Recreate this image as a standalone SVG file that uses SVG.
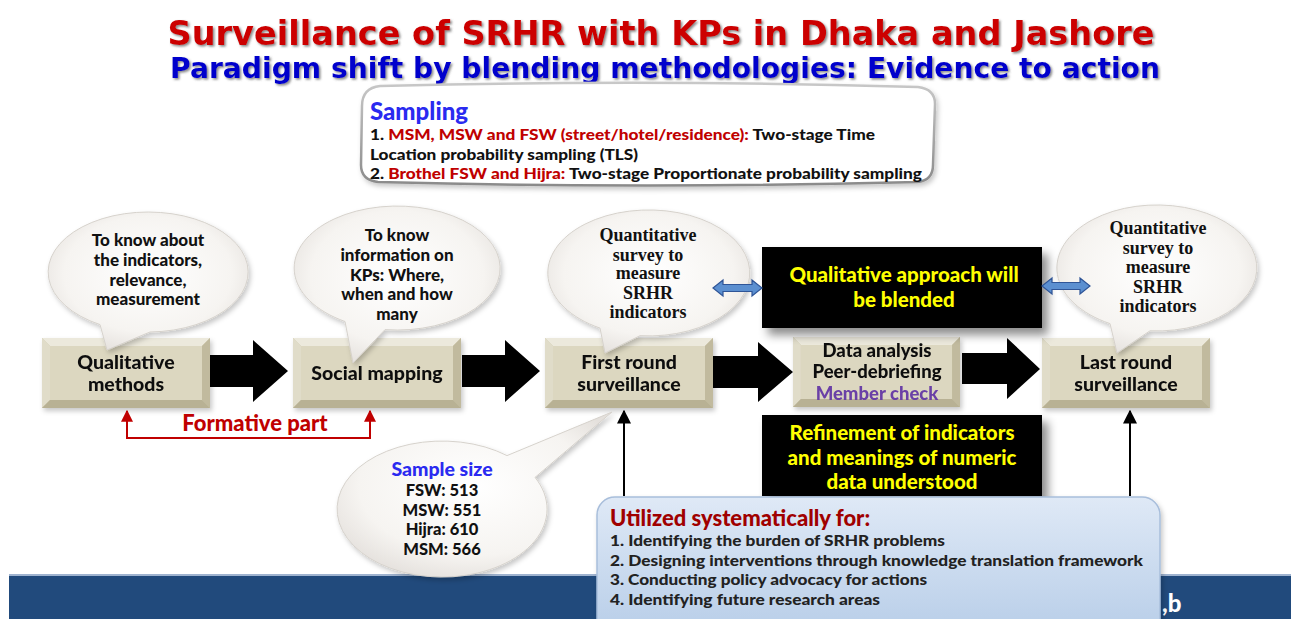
<svg xmlns="http://www.w3.org/2000/svg" width="1291" height="619" viewBox="0 0 1291 619">
  <defs>
    <style>
      .title { font-family: "DejaVu Sans", "Liberation Sans", sans-serif; font-weight: bold; }
      .b { font-family: Lato, "Open Sans", "Liberation Sans", sans-serif; font-weight: 900; }
      .serif { font-family: "Liberation Serif", "DejaVu Serif", serif; font-weight: bold; fill: #111; font-size: 18px; text-anchor: middle; }
      .box-t { font-size: 19.5px; text-anchor: middle; }
      .bub-t { font-size: 17px; text-anchor: middle; }
      .yel { font-size: 20.5px; fill: #ffff00; text-anchor: middle; }
      .bubble { fill: url(#bubbleFill); stroke: #d6d2cc; stroke-width: 1; filter: url(#softShadow); }
      .blk { fill: #000; filter: url(#bigShadow); }
      .flow { fill: #000; }
      .dbl { fill: #5b8fd0; stroke: #2f5597; stroke-width: 1.2; }
    </style>
    <radialGradient id="bubbleFill" cx="50%" cy="45%" r="60%">
      <stop offset="0" stop-color="#ffffff"/>
      <stop offset="0.7" stop-color="#f6f4f1"/>
      <stop offset="1" stop-color="#e4e0dc"/>
    </radialGradient>
    <linearGradient id="utilFill" x1="0" y1="0" x2="0" y2="1">
      <stop offset="0" stop-color="#dfe9f6"/>
      <stop offset="1" stop-color="#b7cde8"/>
    </linearGradient>
    <linearGradient id="sampStroke" x1="0" y1="0" x2="0" y2="1">
      <stop offset="0" stop-color="#c8c8c8"/>
      <stop offset="1" stop-color="#8a8a8a"/>
    </linearGradient>
    <filter id="softShadow" x="-10%" y="-10%" width="125%" height="130%">
      <feDropShadow dx="2" dy="3" stdDeviation="2.5" flood-color="#000" flood-opacity="0.22"/>
    </filter>
    <filter id="bigShadow" x="-10%" y="-15%" width="130%" height="150%">
      <feDropShadow dx="6" dy="7" stdDeviation="5" flood-color="#000" flood-opacity="0.45"/>
    </filter>
    <filter id="textShadow" x="-5%" y="-20%" width="110%" height="150%">
      <feDropShadow dx="1.6" dy="1.6" stdDeviation="0.9" flood-color="#555" flood-opacity="0.7"/>
    </filter>
    <marker id="headBlack" viewBox="0 0 10 10" refX="9" refY="5" markerWidth="7" markerHeight="7" orient="auto">
      <path d="M0,0 L10,5 L0,10 Z" fill="#000"/>
    </marker>
    <marker id="headRed" viewBox="0 0 10 10" refX="9" refY="5" markerWidth="6" markerHeight="6" orient="auto">
      <path d="M0,0 L10,5 L0,10 Z" fill="#c00000"/>
    </marker>
    <!-- beige bevelled process box -->
    <symbol id="bevel" viewBox="0 0 168 70" preserveAspectRatio="none">
      <rect x="0" y="0" width="168" height="70" fill="#cdc7ab"/>
      <polygon points="0,0 168,0 160,8 8,8" fill="#ece9dc"/>
      <polygon points="0,0 8,8 8,62 0,70" fill="#e0dcc9"/>
      <polygon points="168,0 168,70 160,62 160,8" fill="#c1ba9e"/>
      <polygon points="0,70 8,62 160,62 168,70" fill="#b8b194"/>
      <rect x="8" y="8" width="152" height="54" fill="#dcd7c0"/>
    </symbol>
  </defs>

  <rect width="1291" height="619" fill="#ffffff"/>

  <!-- heading -->
  <g id="heading" filter="url(#textShadow)">
    <text class="title" x="661" y="45" font-size="34" fill="#cc0000" text-anchor="middle" textLength="987" lengthAdjust="spacingAndGlyphs">Surveillance of SRHR with KPs in Dhaka and Jashore</text>
    <text class="title" x="665" y="78" font-size="29" fill="#0000cc" text-anchor="middle" textLength="990" lengthAdjust="spacingAndGlyphs">Paradigm shift by blending methodologies: Evidence to action</text>
  </g>

  <!-- footer band -->
  <g id="footer-band">
    <rect x="9" y="575" width="1282" height="44" fill="#214a7c"/>
    <rect x="9" y="574" width="1282" height="2" fill="#9fb3cf"/>
    <text class="b" x="1162" y="612" font-size="24" fill="#ffffff">,b</text>
  </g>

  <!-- sampling panel -->
  <g id="sampling">
    <path d="M380 86 Q648 79 918 87 Q935 89 935 104 L933 165 Q933 180 918 182 Q648 189 378 182 Q361 180 361 165 L362 106 Q362 88 380 86 Z" fill="#ffffff" stroke="url(#sampStroke)" stroke-width="2.5" filter="url(#softShadow)"/>
    <text class="b" x="370" y="120" font-size="24" fill="#2a2af0">Sampling</text>
    <text class="b" x="370" y="140" font-size="15.5" fill="#111" textLength="505" lengthAdjust="spacingAndGlyphs">1. <tspan fill="#c00000">MSM, MSW and FSW (street/hotel/residence):</tspan> Two-stage Time</text>
    <text class="b" x="370" y="160" font-size="15.5" fill="#111" textLength="268" lengthAdjust="spacingAndGlyphs">Location probability sampling (TLS)</text>
    <text class="b" x="370" y="179" font-size="15.5" fill="#111" textLength="552" lengthAdjust="spacingAndGlyphs">2. <tspan fill="#c00000">Brothel FSW and Hijra:</tspan> Two-stage Proportionate probability sampling</text>
  </g>

  <!-- process boxes -->
  <g id="qualitative-methods" filter="url(#softShadow)">
    <use href="#bevel" x="42" y="338" width="168" height="70"/>
    <text class="b box-t" x="126" y="369" fill="#111">Qualitative</text>
    <text class="b box-t" x="126" y="391" fill="#111">methods</text>
  </g>
  <g id="social-mapping" filter="url(#softShadow)">
    <use href="#bevel" x="293" y="338" width="168" height="70"/>
    <text class="b box-t" x="377" y="380" fill="#111">Social mapping</text>
  </g>
  <g id="first-round" filter="url(#softShadow)">
    <use href="#bevel" x="545" y="338" width="168" height="70"/>
    <text class="b box-t" x="629" y="369" fill="#111">First round</text>
    <text class="b box-t" x="629" y="391" fill="#111">surveillance</text>
  </g>
  <g id="data-analysis" filter="url(#softShadow)">
    <use href="#bevel" x="793" y="337" width="167" height="70"/>
    <text class="b box-t" x="877" y="357" fill="#111" style="font-size:18.5px">Data analysis</text>
    <text class="b box-t" x="877" y="378" fill="#111" style="font-size:18.5px">Peer-debriefing</text>
    <text class="b box-t" x="877" y="400" fill="#6a3fa6" style="font-size:18.5px">Member check</text>
  </g>
  <g id="last-round" filter="url(#softShadow)">
    <use href="#bevel" x="1042" y="338" width="168" height="70"/>
    <text class="b box-t" x="1126" y="369" fill="#111">Last round</text>
    <text class="b box-t" x="1126" y="391" fill="#111">surveillance</text>
  </g>

  <!-- speech bubbles -->
  <g id="bubble-qualitative" fill="#111">
    <path class="bubble" d="M100 324.6 L107 350 L150 332 A100 60 0 1 0 100 324.6 Z"/>
    <text class="b bub-t" x="148" y="246">To know about</text>
    <text class="b bub-t" x="148" y="266">the indicators,</text>
    <text class="b bub-t" x="148" y="286">relevance,</text>
    <text class="b bub-t" x="148" y="305">measurement</text>
  </g>
  <g id="bubble-mapping" fill="#111">
    <path class="bubble" d="M345 321.5 L353 363 L385 329.6 A103 62 0 1 0 345 321.5 Z"/>
    <text class="b bub-t" x="397" y="241">To know</text>
    <text class="b bub-t" x="397" y="261">information on</text>
    <text class="b bub-t" x="397" y="281">KPs: Where,</text>
    <text class="b bub-t" x="397" y="300">when and how</text>
    <text class="b bub-t" x="397" y="320">many</text>
  </g>
  <g id="bubble-first-survey">
    <path class="bubble" d="M600 328.1 L605 353 L640 335.7 A101 63 0 1 0 600 328.1 Z"/>
    <text class="serif" x="648" y="241">Quantitative</text>
    <text class="serif" x="648" y="261">survey to</text>
    <text class="serif" x="648" y="279">measure</text>
    <text class="serif" x="648" y="299">SRHR</text>
    <text class="serif" x="648" y="318">indicators</text>
  </g>
  <g id="bubble-last-survey">
    <path class="bubble" d="M1110 323.6 L1117 353 L1150 330.8 A100 63 0 1 0 1110 323.6 Z"/>
    <text class="serif" x="1158" y="234">Quantitative</text>
    <text class="serif" x="1158" y="254">survey to</text>
    <text class="serif" x="1158" y="273">measure</text>
    <text class="serif" x="1158" y="293">SRHR</text>
    <text class="serif" x="1158" y="312">indicators</text>
  </g>

  <!-- qualitative approach -->
  <g id="qualitative-approach">
    <rect class="blk" x="762" y="247" width="280" height="81"/>
    <text class="b yel" x="904" y="282">Qualitative approach will</text>
    <text class="b yel" x="904" y="307">be blended</text>
  </g>

  <!-- refinement -->
  <g id="refinement">
    <rect class="blk" x="762" y="415" width="280" height="81"/>
    <text class="b yel" x="902" y="440">Refinement of indicators</text>
    <text class="b yel" x="902" y="465">and meanings of numeric</text>
    <text class="b yel" x="902" y="489">data understood</text>
  </g>

  <!-- sample size bubble -->
  <g id="sample-size" fill="#111">
    <path class="bubble" d="M535 477.4 L612 412 L507 455.6 A105 68 0 1 0 535 477.4 Z"/>
    <text class="b" x="442" y="476" font-size="19.5" fill="#2a2af0" text-anchor="middle">Sample size</text>
    <text class="b bub-t" x="442" y="496" style="font-size:16.5px">FSW: 513</text>
    <text class="b bub-t" x="442" y="516" style="font-size:16.5px">MSW: 551</text>
    <text class="b bub-t" x="442" y="535" style="font-size:16.5px">Hijra: 610</text>
    <text class="b bub-t" x="442" y="555" style="font-size:16.5px">MSM: 566</text>
  </g>

  <!-- utilization panel -->
  <g id="utilization">
    <rect x="597" y="497" width="563" height="140" rx="18" fill="url(#utilFill)" stroke="#a8bedb" stroke-width="1.5" filter="url(#softShadow)"/>
    <text class="b" x="610" y="526" font-size="22" fill="#a00000">Utilized systematically for:</text>
    <text class="b" x="610" y="546" font-size="15" fill="#222" textLength="335" lengthAdjust="spacingAndGlyphs">1. Identifying the burden of SRHR problems</text>
    <text class="b" x="610" y="566" font-size="15" fill="#222" textLength="533" lengthAdjust="spacingAndGlyphs">2. Designing interventions through knowledge translation framework</text>
    <text class="b" x="610" y="585" font-size="15" fill="#222" textLength="317" lengthAdjust="spacingAndGlyphs">3. Conducting policy advocacy for actions</text>
    <text class="b" x="610" y="605" font-size="15" fill="#222" textLength="270" lengthAdjust="spacingAndGlyphs">4. Identifying future research areas</text>
  </g>

  <!-- connectors -->
  <g id="connectors">
    <!-- main flow block arrows -->
    <polygon class="flow" points="210,355 253,355 253,340 288,371 253,402 253,387 210,387"/>
    <polygon class="flow" points="462,355 505,355 505,340 540,371 505,402 505,387 462,387"/>
    <polygon class="flow" points="713,356 758,356 758,342 793,372 758,402 758,388 713,388"/>
    <polygon class="flow" points="962,353 1007,353 1007,338 1040,369 1007,399 1007,384 962,384"/>
    <!-- two-way links to the qualitative approach -->
    <polygon class="dbl" points="713,288 723,280 723,284.5 752,284.5 752,280 762,288 752,296 752,291.5 723,291.5 723,296"/>
    <polygon class="dbl" points="1042,286 1052,278 1052,282.5 1080,282.5 1080,278 1090,286 1080,294 1080,289.5 1052,289.5 1052,294"/>
    <!-- feedback from utilization -->
    <line x1="624" y1="496" x2="624" y2="411" stroke="#000" stroke-width="2" marker-end="url(#headBlack)"/>
    <line x1="1130" y1="496" x2="1130" y2="411" stroke="#000" stroke-width="2" marker-end="url(#headBlack)"/>
    <!-- formative bracket -->
    <path d="M127 438 L127 411" fill="none" stroke="#c00000" stroke-width="2" marker-end="url(#headRed)"/>
    <path d="M370 438 L370 411" fill="none" stroke="#c00000" stroke-width="2" marker-end="url(#headRed)"/>
    <line x1="126" y1="438" x2="371" y2="438" stroke="#c00000" stroke-width="2"/>
    <text class="b" x="255" y="431" font-size="22" fill="#c00000" text-anchor="middle">Formative part</text>
  </g>
</svg>
